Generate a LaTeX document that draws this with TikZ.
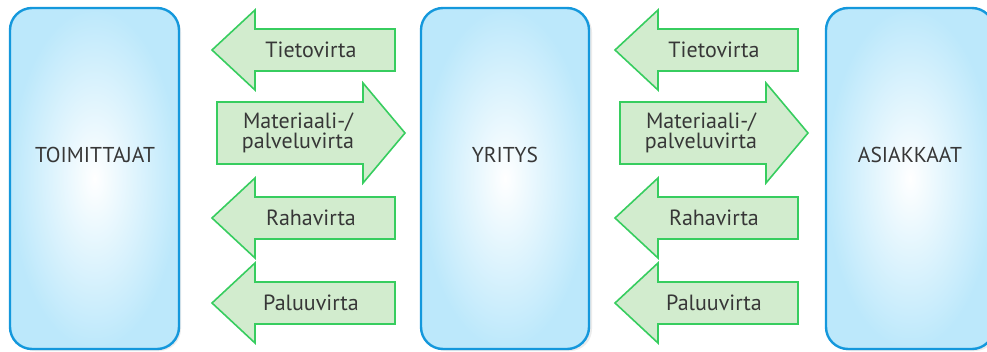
\documentclass[tikz,border=0pt]{standalone}
\usepackage{fontspec}
\setmainfont{PT Sans}
\definecolor{boxline}{RGB}{20,152,220}
\definecolor{boxout}{RGB}{188,232,251}
\definecolor{arrline}{RGB}{55,205,95}
\definecolor{arrfill}{RGB}{210,236,206}
\definecolor{txt}{RGB}{55,55,55}
\begin{document}
\begin{tikzpicture}[x=1pt,y=-1pt,
  party/.style={draw=boxline,line width=2.4pt,rounded corners=22pt,inner color=white,outer color=boxout},
  flow/.style={draw=arrline,line width=1.6pt,fill=arrfill,line join=miter},
  flowtext/.style={text=txt,font=\fontsize{22}{20.5}\selectfont,align=center,inner sep=0pt},
  partytext/.style={text=txt,font=\fontsize{21.5}{22}\selectfont,inner sep=0pt}]
\useasboundingbox (0,0) rectangle (987,351);
% shadows
\foreach \x in {10,421,826}{
  \fill[black!8,rounded corners=22pt] (\x+3,10) rectangle (\x+171,351);
}
% parties
\shade[party] (10,8) rectangle (179,349);
\shade[party] (421,8) rectangle (589,349);
\shade[party] (826,8) rectangle (994,349);
\node[partytext] (toim) at (95,155) {TOIMITTAJAT};
\node[partytext] (yri) at (505,155) {YRITYS};
\node[partytext] (asi) at (910,155) {ASIAKKAAT};
% flows
\foreach \s/\c in {0/a,403/b}{
  % left arrows
  \foreach \cy/\lab/\n in {50/Tietovirta/tieto,218/Rahavirta/raha,303/Paluuvirta/paluu}{
    \draw[flow] (212+\s,\cy) -- (255+\s,\cy-40) -- (255+\s,\cy-21) -- (395+\s,\cy-21)
      -- (395+\s,\cy+21) -- (255+\s,\cy+21) -- (255+\s,\cy+40) -- cycle;
    \node[flowtext] (\n\c) at (311+\s,\cy) {\lab};
  }
  % right arrow
  \draw[flow] (217+\s,102) -- (363+\s,102) -- (363+\s,83) -- (405+\s,133) -- (363+\s,183)
    -- (363+\s,164) -- (217+\s,164) -- cycle;
  \node[flowtext] (mat\c) at (298+\s,133) {Materiaali-/\\palveluvirta};
}
\end{tikzpicture}
\end{document}
